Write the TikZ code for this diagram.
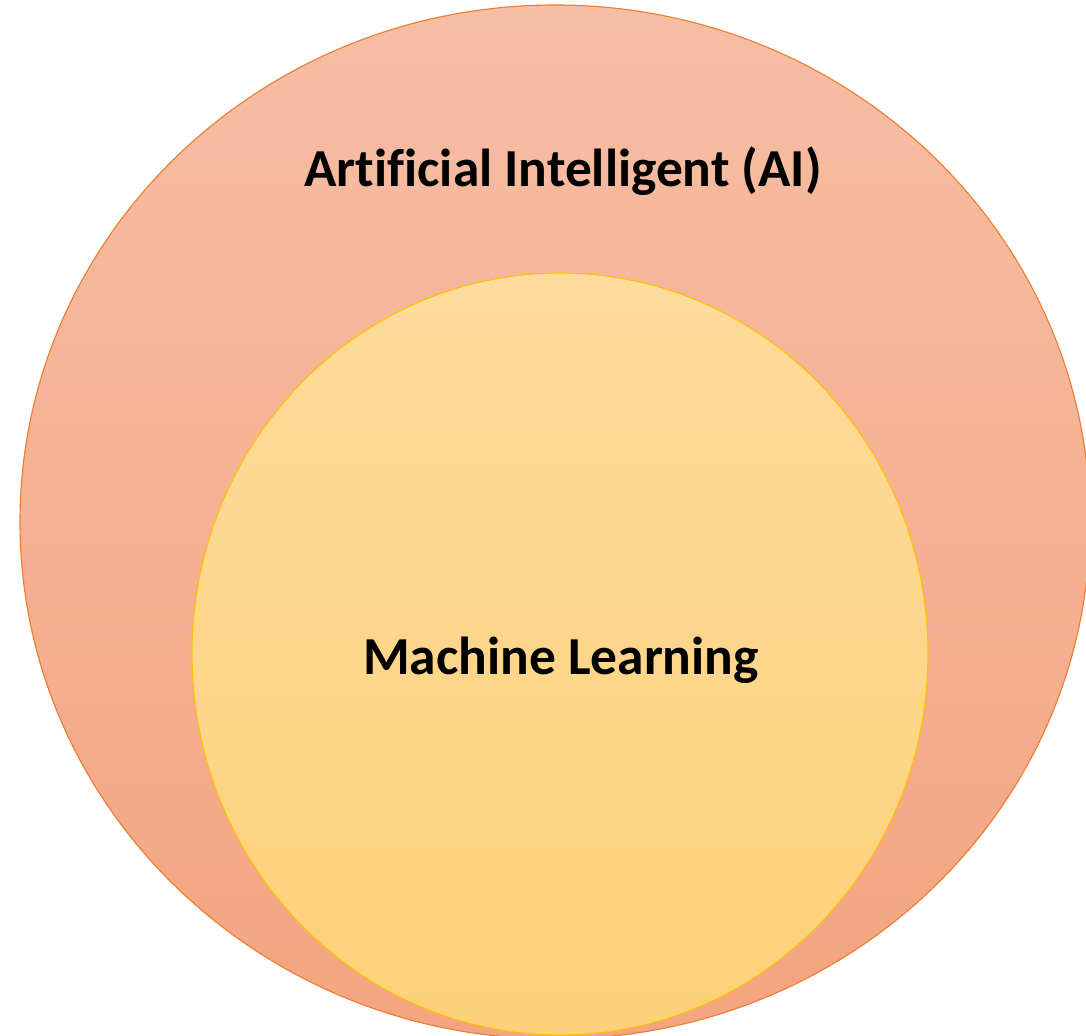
\documentclass[tikz,border=0pt]{standalone}
\usepackage{fontspec}
\setmainfont[Ligatures={NoCommon}]{Carlito}
\usetikzlibrary{positioning}
\tikzset{%
  aiset/.style={draw={rgb,255:red,237;green,125;blue,49}, line width=0.8pt,
                top color={rgb,255:red,246;green,190;blue,165},
                bottom color={rgb,255:red,244;green,164;blue,128}},
  mlset/.style={draw={rgb,255:red,255;green,192;blue,0}, line width=0.8pt,
                top color={rgb,255:red,253;green,219;blue,155},
                bottom color={rgb,255:red,253;green,209;blue,122}},
  setlabel/.style={font=\bfseries\fontsize{38}{44}\selectfont, inner sep=0pt},
}
\begin{document}
\begin{tikzpicture}[x=0.025cm,y=-0.025cm]
              \useasboundingbox (0,0) rectangle (1086,1036);
              \clip (0,0) rectangle (1086,1036);
              \coordinate (O) at (555,522);
              \coordinate (M) at (560,654);
              \draw[aiset] (O) ellipse [x radius=535, y radius=517];
              \draw[mlset] (M) ellipse [x radius=368, y radius=381];
              \node[setlabel] (ai) at (563,171) {Artificial Intelligent (AI)};
              \node[setlabel] (ml) at (561,660) {Machine Learning};
          \end{tikzpicture}
\end{document}
